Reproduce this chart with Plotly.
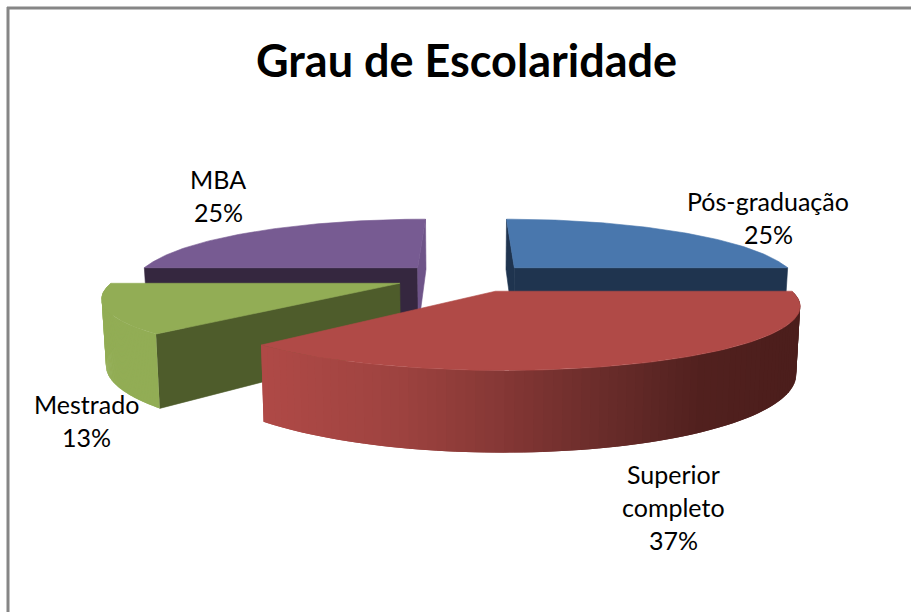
import numpy as np
import plotly.graph_objects as go

categories = ["Pós-graduação", "Superior completo", "Mestrado", "MBA"]
values = [25, 37, 13, 25]
title_text = "Grau de Escolaridade"

# style: colours (top face, wall at slice start, wall at slice end)
TOP = ["#4977ad", "#b04a47", "#92ad55", "#775b92"]
WALL_A = ["#1f344f", None, "#4e5c2b", "#35273f"]
WALL_B = ["#1f344f", None, None, "#6e5488"]
HAS_RIM = [False, True, True, False]
RIM_SOLID = {2: "#92ad55"}
RED_X = [260, 400, 500, 600, 700, 795]
RED_C = [(176, 74, 71), (158, 67, 64), (134, 56, 54), (107, 45, 43), (82, 33, 31), (76, 30, 28)]

# style: projection of the exploded 3-D pie
VX, VY, RX, KY, P, H, D = 466.0, 277.5, 283.0, 57.0, 0.2, 62.0, 0.25


def project(X, Y, Z=0.0):
    X, Y = np.asarray(X, float), np.asarray(Y, float)
    s = 1.0 / (1.0 + P * Y)
    squeeze = 1.0 - 0.012 * (Z / H)
    lift = Y + 0.1 * np.maximum(Y - 0.3, 0)
    return VX + RX * X * s * squeeze, VY - KY * lift * s + Z * s


fig = go.Figure()


def poly(xs, ys, color, width=0.6):
    xs, ys = list(xs), list(ys)
    fig.add_trace(go.Scatter(x=xs + xs[:1], y=ys + ys[:1], mode="lines", fill="toself",
                             fillcolor=color, line=dict(color=color, width=width),
                             hoverinfo="skip", showlegend=False))


def slice_pts(a0, a1, n):
    mid = (a0 + a1) / 2
    ox, oy = D * np.sin(mid), D * np.cos(mid)
    th = np.linspace(a0, a1, n)
    return ox, oy, ox + np.sin(th), oy + np.cos(th)


fractions = np.array(values, float) / sum(values)
edges = np.concatenate([[0], np.cumsum(fractions)]) * 2 * np.pi
spans = [(edges[i], edges[i + 1]) for i in range(len(values))]


def wall(ox, oy, x, y, color):
    xa, ya = project([ox, x], [oy, y])
    xb, yb = project([x, ox], [y, oy], H)
    poly(list(xa) + list(xb), list(ya) + list(yb), color)


def draw(i):
    a0, a1 = spans[i]
    ox, oy, xs, ys = slice_pts(a0, a1, 90)
    if WALL_A[i]:
        wall(ox, oy, xs[0], ys[0], WALL_A[i])
    if WALL_B[i]:
        wall(ox, oy, xs[-1], ys[-1], WALL_B[i])
    if HAS_RIM[i]:
        n = len(xs)
        for k in range(n - 1):
            e = min(k + 3, n)
            xt, yt = project(xs[k:e], ys[k:e])
            xb, yb = project(xs[k:e][::-1], ys[k:e][::-1], H)
            if i in RIM_SOLID:
                c = RIM_SOLID[i]
            else:
                xm = float(project(xs[k:k + 2], ys[k:k + 2])[0].mean())
                c = "rgb(%d,%d,%d)" % tuple(
                    int(np.interp(xm, RED_X, [col[j] for col in RED_C])) for j in range(3))
            poly(list(xt) + list(xb), list(yt) + list(yb), c, width=0)
    px, py = project(np.r_[ox, xs], np.r_[oy, ys])
    poly(px, py, TOP[i])


for i in [3, 0, 2, 1]:
    draw(i)

# labels
FONT = "Lato, Carlito, Calibri, sans-serif"
label_lines = [
    [categories[0], f"{values[0]}%"],
    ["Superior", "completo", f"{values[1]}%"],
    [categories[2], f"{values[2]}%"],
    [categories[3], f"{values[3]}%"],
]
label_xy = [(768, 201), (673, 474), (86, 404), (218, 179)]
annots = []
for lines, (lx, ly) in zip(label_lines, label_xy):
    for j, t in enumerate(lines):
        annots.append(dict(x=lx, y=ly + 33 * j, text=t, showarrow=False,
                           xanchor="center", yanchor="middle",
                           font=dict(family=FONT, size=25, color="#000000")))
annots.append(dict(x=466, y=60, text=f"<b>{title_text}</b>", showarrow=False,
                   xanchor="center", yanchor="middle",
                   font=dict(family=FONT, size=45, color="#000000")))

border = dict(color="#868686", width=3)
fig.update_layout(
    width=911, height=612, margin=dict(l=0, r=0, t=0, b=0),
    paper_bgcolor="#ffffff", plot_bgcolor="#ffffff", showlegend=False,
    xaxis=dict(range=[0, 911], visible=False, fixedrange=True),
    yaxis=dict(range=[612, 0], visible=False, fixedrange=True),
    annotations=annots,
    shapes=[
        dict(type="line", x0=8, x1=8, y0=7, y1=612, line=border, layer="above"),
        dict(type="line", x0=7, x1=911, y0=8, y1=8, line=border, layer="above"),
    ],
)
fig.write_html("out.html", config={"displayModeBar": False},
               post_script="document.body.style.margin='0';document.body.style.overflow='hidden';")
